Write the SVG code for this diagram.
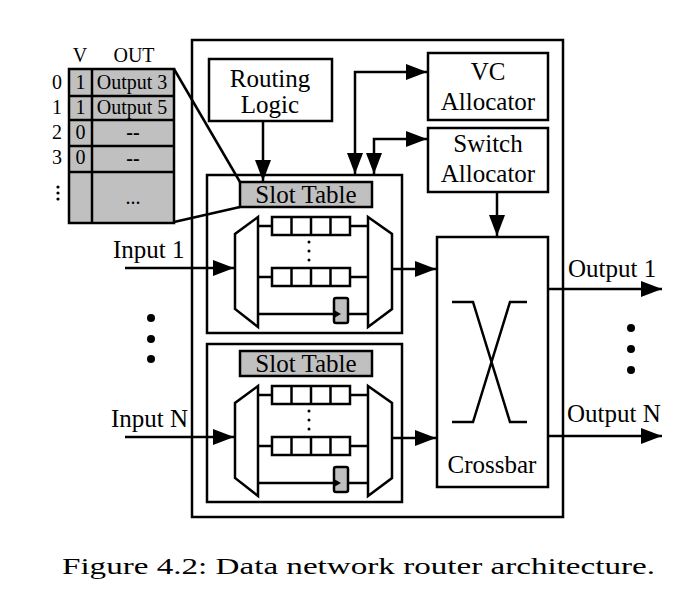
<svg xmlns="http://www.w3.org/2000/svg" width="687" height="612" viewBox="0 0 687 612">
<style>
.t{font-family:"Liberation Serif","Times New Roman",serif;fill:#000}
.b{font-size:25px}
.s{font-size:20px}
.box{fill:#fff;stroke:#000;stroke-width:2.5}
.ln{fill:none;stroke:#000;stroke-width:2.5}
.g{fill:#c0c0c0;stroke:#000;stroke-width:2.5}
.q{fill:#fff;stroke:#000;stroke-width:2.5}
</style>
<defs>
<marker id="ah" markerUnits="userSpaceOnUse" markerWidth="22" markerHeight="16" refX="21" refY="8" orient="auto-start-reverse">
<path d="M0,0 L21,8 L0,16 z" fill="#000"/>
</marker>
<g id="iu">
<rect class="box" x="207" y="175" width="195" height="158" stroke-width="2"/>
<rect class="g" x="240" y="182" width="132" height="25"/>
<text class="t b" x="306" y="203" text-anchor="middle">Slot Table</text>
<polygon class="box" points="258,217 258,327 235,309 235,234"/>
<polygon class="box" points="368,217 392,234 392,309 368,327"/>
<line class="ln" x1="258" y1="226" x2="272" y2="226"/>
<line class="ln" x1="350" y1="226" x2="368" y2="226"/>
<line class="ln" x1="258" y1="277" x2="272" y2="277"/>
<line class="ln" x1="350" y1="277" x2="368" y2="277"/>
<rect class="q" x="272" y="217" width="78" height="18"/>
<line class="ln" x1="291.5" y1="217" x2="291.5" y2="235"/>
<line class="ln" x1="311" y1="217" x2="311" y2="235"/>
<line class="ln" x1="330.5" y1="217" x2="330.5" y2="235"/>
<rect class="q" x="272" y="268" width="78" height="18"/>
<line class="ln" x1="291.5" y1="268" x2="291.5" y2="286"/>
<line class="ln" x1="311" y1="268" x2="311" y2="286"/>
<line class="ln" x1="330.5" y1="268" x2="330.5" y2="286"/>
<circle cx="309" cy="242" r="1.5"/>
<circle cx="309" cy="251" r="1.5"/>
<circle cx="309" cy="260" r="1.5"/>
<line class="ln" x1="258" y1="314" x2="334" y2="314"/>
<line class="ln" x1="348" y1="314" x2="368" y2="314"/>
<rect x="334" y="298" width="14" height="25" rx="2" fill="#c0c0c0" stroke="#000" stroke-width="2.5"/>
<polygon points="334,310 341,314 334,318" fill="#000"/>
</g>
</defs>

<g id="caption">
<text class="t" x="62" y="574" font-size="24" textLength="593" lengthAdjust="spacingAndGlyphs">Figure 4.2: Data network router architecture.</text>
</g>

<g id="router">
<rect class="box" x="192" y="40" width="371" height="477"/>
</g>

<g id="slot-table-contents">
<text class="t s" x="80" y="62" text-anchor="middle">V</text>
<text class="t s" x="134" y="62" text-anchor="middle">OUT</text>
<rect x="69" y="69" width="105" height="154" fill="#c0c0c0" stroke="#000" stroke-width="2.5"/>
<line class="ln" x1="92" y1="69" x2="92" y2="223"/>
<line class="ln" x1="69" y1="96" x2="174" y2="96"/>
<line class="ln" x1="69" y1="120" x2="174" y2="120"/>
<line class="ln" x1="69" y1="146" x2="174" y2="146"/>
<line class="ln" x1="69" y1="172" x2="174" y2="172"/>
<text class="t s" x="57" y="89" text-anchor="middle">0</text>
<text class="t s" x="57" y="114" text-anchor="middle">1</text>
<text class="t s" x="57" y="139" text-anchor="middle">2</text>
<text class="t s" x="57" y="164" text-anchor="middle">3</text>
<circle cx="58" cy="187" r="1.6"/>
<circle cx="58" cy="193" r="1.6"/>
<circle cx="58" cy="199" r="1.6"/>
<text class="t s" x="80.5" y="89" text-anchor="middle">1</text>
<text class="t s" x="80.5" y="114" text-anchor="middle">1</text>
<text class="t s" x="80.5" y="139" text-anchor="middle">0</text>
<text class="t s" x="80.5" y="164" text-anchor="middle">0</text>
<text class="t s" x="132" y="89" text-anchor="middle">Output 3</text>
<text class="t s" x="132" y="114" text-anchor="middle">Output 5</text>
<text class="t s" x="133" y="139" text-anchor="middle" font-weight="bold">--</text>
<text class="t s" x="133" y="165" text-anchor="middle" font-weight="bold">--</text>
<text class="t s" x="133" y="204" text-anchor="middle">...</text>
</g>

<g id="routing-logic">
<rect class="box" x="209" y="59" width="123" height="62"/>
<text class="t b" x="270" y="87" text-anchor="middle">Routing</text>
<text class="t b" x="270" y="113" text-anchor="middle">Logic</text>
</g>

<g id="vc-allocator">
<rect class="box" x="428" y="53" width="120" height="67"/>
<text class="t b" x="488" y="80" text-anchor="middle">VC</text>
<text class="t b" x="488" y="110" text-anchor="middle">Allocator</text>
</g>

<g id="switch-allocator">
<rect class="box" x="428" y="128" width="120" height="64"/>
<text class="t b" x="488" y="152" text-anchor="middle">Switch</text>
<text class="t b" x="488" y="182" text-anchor="middle">Allocator</text>
</g>

<g id="input-unit-1">
<use href="#iu"/>
</g>

<g id="input-unit-n">
<use href="#iu" transform="translate(0,169)"/>
</g>

<g id="crossbar">
<rect class="box" x="437" y="237" width="111" height="250"/>
<path class="ln" d="M452,302 L473,302 L510,422 L527,422 M452,422 L473,422 L510,302 L527,302"/>
<text class="t b" x="492" y="473" text-anchor="middle">Crossbar</text>
</g>

<g id="labels">
<text class="t b" x="113" y="258">Input 1</text>
<text class="t b" x="111" y="427">Input N</text>
<text class="t b" x="568" y="277">Output 1</text>
<text class="t b" x="567" y="422">Output N</text>
<circle cx="151" cy="318" r="4"/>
<circle cx="151" cy="339" r="4"/>
<circle cx="151" cy="359" r="4"/>
<circle cx="631" cy="328" r="4"/>
<circle cx="631" cy="349" r="4"/>
<circle cx="631" cy="370" r="4"/>
</g>

<g id="connectors">
<line class="ln" x1="174" y1="69" x2="240" y2="182"/>
<line class="ln" x1="174" y1="222" x2="240" y2="207"/>
<line class="ln" x1="263" y1="121" x2="263" y2="181" marker-end="url(#ah)"/>
<polyline class="ln" points="355,174 355,72 427,72" marker-start="url(#ah)" marker-end="url(#ah)"/>
<polyline class="ln" points="374,174 374,139 427,139" marker-start="url(#ah)" marker-end="url(#ah)"/>
<line class="ln" x1="497" y1="192" x2="497" y2="236" marker-end="url(#ah)"/>
<line class="ln" x1="125" y1="268" x2="234" y2="268" marker-end="url(#ah)"/>
<line class="ln" x1="125" y1="437" x2="234" y2="437" marker-end="url(#ah)"/>
<line class="ln" x1="392" y1="269" x2="436" y2="269" marker-end="url(#ah)"/>
<line class="ln" x1="392" y1="438" x2="436" y2="438" marker-end="url(#ah)"/>
<line class="ln" x1="548" y1="289" x2="662" y2="289" marker-end="url(#ah)"/>
<line class="ln" x1="548" y1="436" x2="662" y2="436" marker-end="url(#ah)"/>
</g>
</svg>
